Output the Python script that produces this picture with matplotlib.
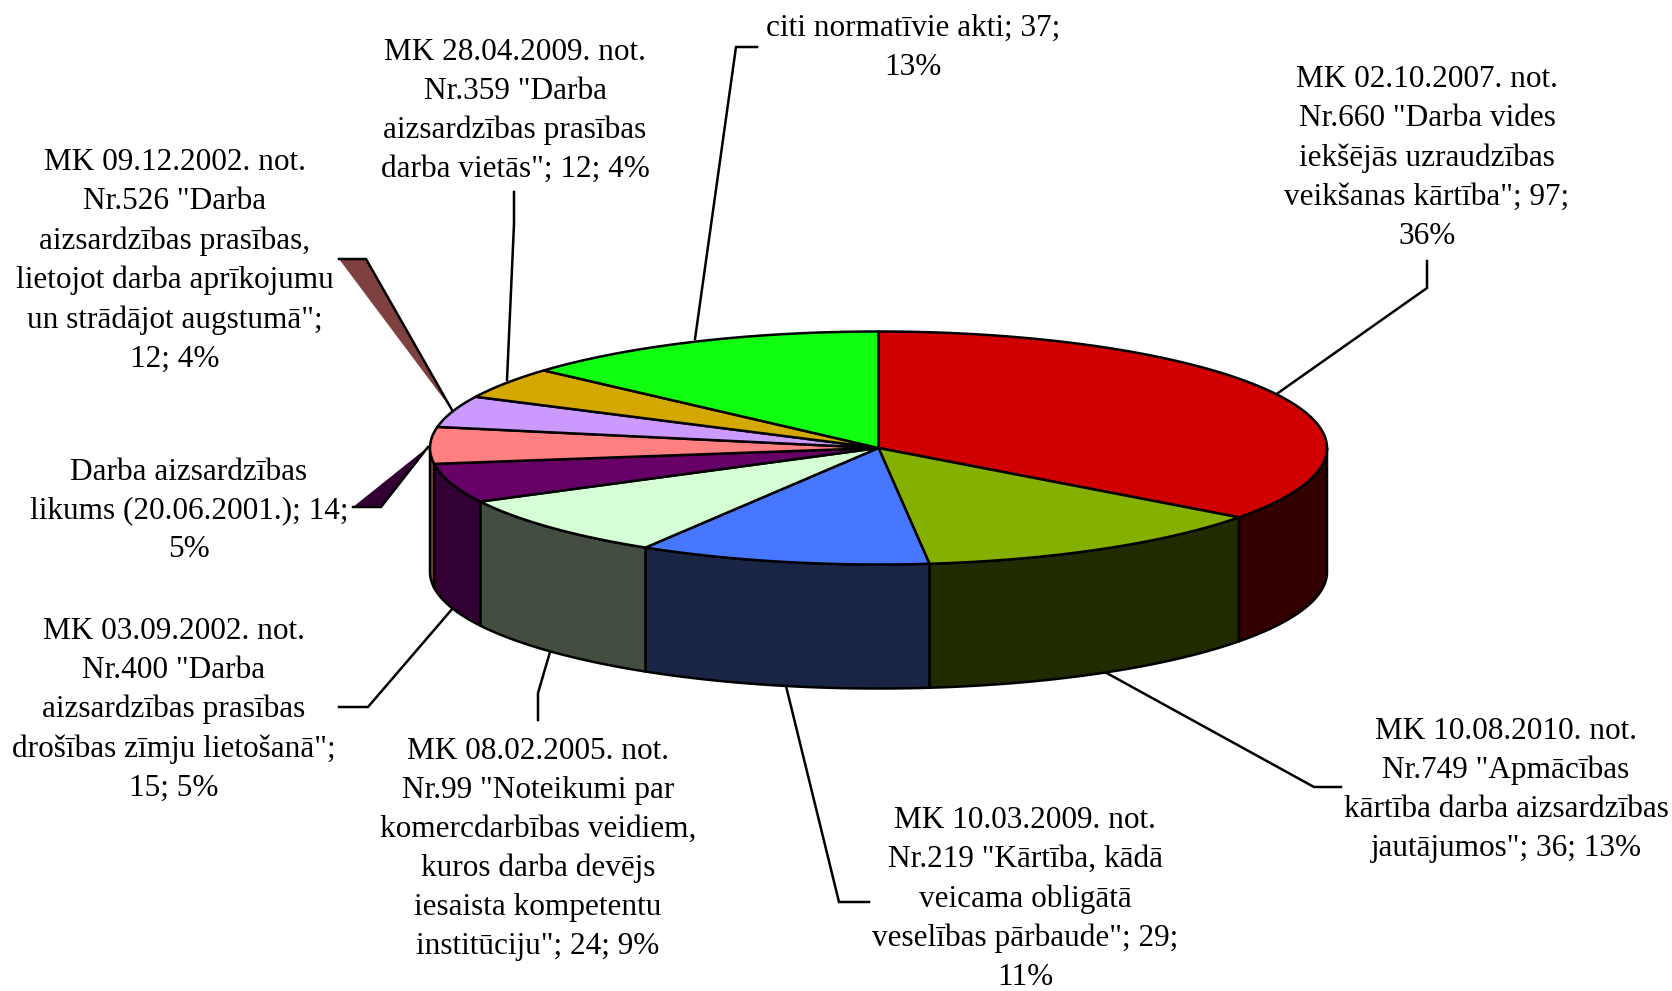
import numpy as np
import matplotlib
matplotlib.use("Agg")
import matplotlib.pyplot as plt
from matplotlib.patches import Polygon

values = [97, 36, 29, 24, 15, 14, 12, 12, 37]
percents = ["36%", "13%", "11%", "9%", "5%", "5%", "4%", "4%", "13%"]
names = [
    'MK 02.10.2007. not.\nNr.660 "Darba vides\niekšējās uzraudzības\nveikšanas kārtība"',
    'MK 10.08.2010. not.\nNr.749 "Apmācības\nkārtība darba aizsardzības\njautājumos"',
    'MK 10.03.2009. not.\nNr.219 "Kārtība, kādā\nveicama obligātā\nveselības pārbaude"',
    'MK 08.02.2005. not.\nNr.99 "Noteikumi par\nkomercdarbības veidiem,\nkuros darba devējs\niesaista kompetentu\ninstitūciju"',
    'MK 03.09.2002. not.\nNr.400 "Darba\naizsardzības prasības\ndrošības zīmju lietošanā"',
    'Darba aizsardzības\nlikums (20.06.2001.)',
    'MK 09.12.2002. not.\nNr.526 "Darba\naizsardzības prasības,\nlietojot darba aprīkojumu\nun strādājot augstumā"',
    'MK 28.04.2009. not.\nNr.359 "Darba\naizsardzības prasības\ndarba vietās"',
    'citi normatīvie akti',
]
seps = ["; {v};\n{p}", "; {v}; {p}", "; {v};\n{p}", "; {v}; {p}", ";\n{v}; {p}",
        "; {v};\n{p}", ";\n{v}; {p}", "; {v}; {p}", "; {v};\n{p}"]
top_colors = ["#D00000", "#86B000", "#4777FF", "#D5FFD5", "#660066",
              "#FF8080", "#CC99FF", "#D4A800", "#10FF10"]
side_colors = ["#330000", "#212B00", "#1A2545", "#434D40", "#330033",
               "#7F4040", "#665080", "#6A5400", "#088008"]
label_pos = [(1427, 158), (1506, 790), (1025, 899), (538, 849), (174, 710),
             (189, 511), (175, 261), (515, 111), (913, 48)]
leaders = [
    [(1278, 393), (1427, 288), (1427, 261)],
    [(1103, 671), (1314, 787), (1341, 787)],
    [(786, 686), (839, 902), (869, 902)],
    [(550, 652), (538, 693), (538, 720)],
    [(453, 608), (368, 707), (339, 707)],
    None,
    None,
    [(507, 380), (514, 224), (514, 192)],
    [(695, 339), (736, 47), (757, 47)],
]

CX, CY, RX, RY, DEPTH = 878.5, 448, 448.5, 116.5, 124
LW = 1.8

plt.rcParams["font.family"] = ["Liberation Serif", "DejaVu Serif"]
fig = plt.figure(figsize=(16.72, 9.91), dpi=100)
ax = fig.add_axes([0, 0, 1, 1])
ax.set_xlim(0, 1672)
ax.set_ylim(991, 0)
ax.axis("off")


def arc(a0, a1, dy=0.0):
    t = np.linspace(a0, a1, max(int(abs(a1 - a0) * 200), 2))
    return np.column_stack([CX + RX * np.sin(t), CY - RY * np.cos(t) + dy])


bounds = np.concatenate([[0], np.cumsum(values)]) / np.sum(values) * 2 * np.pi

# Leader wedges pointing at the pink and lavender slices
ax.add_patch(Polygon([(339, 259), (366, 259), (452, 410)], fc="#7F4040", ec="none", zorder=1))
ax.plot([339, 366, 452], [259, 259, 410], color="k", lw=LW, zorder=1, solid_joinstyle="miter")
ax.add_patch(Polygon([(353, 507), (381, 507), (428, 447)], fc="#330033", ec="none", zorder=1))
ax.plot([353, 381, 428], [507, 507, 447], color="k", lw=LW, zorder=1, solid_joinstyle="miter")

for pts in leaders:
    if pts is not None:
        xs, ys = zip(*pts)
        ax.plot(xs, ys, color="k", lw=LW, zorder=1, solid_joinstyle="miter")

# Side walls on the front half of the disc
for i in range(len(values)):
    a0 = max(bounds[i], np.pi / 2)
    a1 = min(bounds[i + 1], 3 * np.pi / 2)
    if a1 > a0:
        wall = np.vstack([arc(a0, a1), arc(a1, a0, DEPTH)])
        ax.add_patch(Polygon(wall, closed=True, fc=side_colors[i], ec="k", lw=LW,
                             joinstyle="round", zorder=2))

# Top faces
for i in range(len(values)):
    face = np.vstack([[(CX, CY)], arc(bounds[i], bounds[i + 1])])
    ax.add_patch(Polygon(face, closed=True, fc=top_colors[i], ec="k", lw=LW,
                         joinstyle="round", zorder=3))

# Labels
for name, sep, v, p, (x, y) in zip(names, seps, values, percents, label_pos):
    ax.text(x, y, name + sep.format(v=v, p=p), ha="center", va="center",
            multialignment="center", fontsize=22.5, linespacing=1.45, color="k", zorder=4)

fig.savefig("out.png", dpi=100, facecolor="white")
